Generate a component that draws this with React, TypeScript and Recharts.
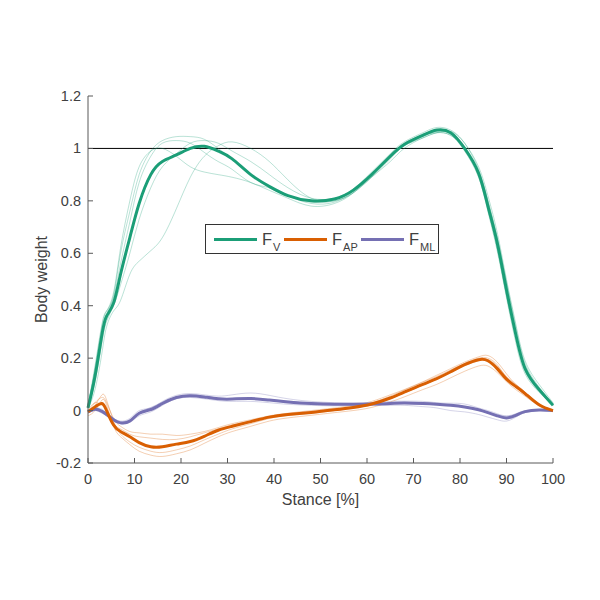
import { LineChart, Line, XAxis, YAxis, ReferenceLine } from "recharts";

// stance grid [%]
const stance = [0, 1.5, 3, 4, 5.5, 7, 9, 11, 13.5, 16, 19, 22, 25, 28, 31, 35, 39, 43, 48, 53, 57, 61, 65, 68, 72, 75, 78, 81, 84, 86, 88, 90, 92, 94, 97, 100];

// mean curves (body weight)
const meanFV = [0.01, 0.13, 0.29, 0.36, 0.41, 0.52, 0.66, 0.79, 0.9, 0.95, 0.975, 1.0, 1.008, 0.99, 0.96, 0.9, 0.855, 0.82, 0.8, 0.807, 0.84, 0.9, 0.97, 1.015, 1.05, 1.07, 1.06, 1.0, 0.905, 0.78, 0.64, 0.46, 0.29, 0.16, 0.08, 0.02];
const meanAP = [-0.005, 0.014, 0.027, 0.0, -0.055, -0.08, -0.1, -0.122, -0.138, -0.138, -0.128, -0.118, -0.098, -0.075, -0.06, -0.042, -0.025, -0.015, -0.007, 0.003, 0.012, 0.025, 0.048, 0.07, 0.1, 0.122, 0.148, 0.175, 0.194, 0.19, 0.16, 0.12, 0.092, 0.065, 0.022, 0.0];
const meanML = [-0.005, 0.005, -0.003, -0.015, -0.035, -0.047, -0.04, -0.01, 0.004, 0.027, 0.05, 0.057, 0.052, 0.045, 0.044, 0.046, 0.04, 0.033, 0.027, 0.024, 0.024, 0.025, 0.027, 0.029, 0.027, 0.024, 0.02, 0.014, 0.003, -0.008, -0.02, -0.028, -0.018, -0.004, 0.002, 0.0];

// individual trials
const fvTrial1 = [0.01, 0.08, 0.22, 0.32, 0.38, 0.42, 0.52, 0.57, 0.61, 0.66, 0.77, 0.89, 0.97, 1.01, 1.025, 1.0, 0.95, 0.88, 0.81, 0.8, 0.83, 0.89, 0.96, 1.01, 1.04, 1.06, 1.05, 1.0, 0.91, 0.8, 0.66, 0.49, 0.32, 0.18, 0.09, 0.02];
const fvTrial2 = [0.02, 0.17, 0.33, 0.38, 0.44, 0.6, 0.76, 0.9, 0.99, 1.03, 1.045, 1.045, 1.035, 1.0, 0.96, 0.9, 0.85, 0.82, 0.795, 0.8, 0.83, 0.89, 0.95, 1.0, 1.04, 1.06, 1.065, 1.02, 0.93, 0.82, 0.68, 0.5, 0.33, 0.19, 0.1, 0.03];
const fvTrial3 = [0.02, 0.15, 0.3, 0.37, 0.43, 0.56, 0.72, 0.87, 0.97, 1.02, 1.03, 1.02, 0.985, 0.95, 0.92, 0.87, 0.85, 0.82, 0.79, 0.795, 0.835, 0.9, 0.965, 1.01, 1.045, 1.065, 1.055, 1.0, 0.9, 0.77, 0.62, 0.44, 0.28, 0.15, 0.075, 0.02];
const fvTrial4 = [0.01, 0.11, 0.26, 0.34, 0.4, 0.48, 0.6, 0.73, 0.85, 0.93, 0.98, 1.02, 1.03, 1.02, 0.99, 0.95, 0.9, 0.85, 0.81, 0.81, 0.845, 0.91, 0.98, 1.025, 1.06, 1.08, 1.07, 1.02, 0.92, 0.8, 0.66, 0.48, 0.3, 0.17, 0.085, 0.02];
const fvTrial5 = [0.02, 0.16, 0.32, 0.38, 0.45, 0.62, 0.8, 0.93, 0.99, 1.0, 0.97, 0.93, 0.91, 0.9, 0.89, 0.87, 0.84, 0.81, 0.78, 0.79, 0.83, 0.9, 0.97, 1.02, 1.05, 1.06, 1.05, 0.99, 0.89, 0.76, 0.61, 0.43, 0.26, 0.14, 0.07, 0.02];

const apTrial1 = [-0.01, 0.03, 0.05, 0.03, -0.03, -0.06, -0.08, -0.085, -0.09, -0.09, -0.095, -0.09, -0.08, -0.065, -0.05, -0.035, -0.02, -0.01, 0.0, 0.01, 0.02, 0.035, 0.06, 0.08, 0.11, 0.135, 0.16, 0.185, 0.205, 0.21, 0.185, 0.14, 0.1, 0.07, 0.025, 0.0];
const apTrial2 = [-0.02, 0.0, 0.04, 0.02, -0.06, -0.1, -0.13, -0.155, -0.17, -0.175, -0.165, -0.15, -0.125, -0.1, -0.08, -0.06, -0.04, -0.028, -0.018, -0.008, 0.0, 0.012, 0.033, 0.052, 0.08, 0.1, 0.125, 0.15, 0.17, 0.17, 0.145, 0.11, 0.08, 0.055, 0.018, -0.005];
const apTrial3 = [-0.005, 0.02, 0.06, 0.04, -0.04, -0.09, -0.12, -0.14, -0.155, -0.16, -0.15, -0.135, -0.112, -0.09, -0.07, -0.05, -0.03, -0.018, -0.01, 0.0, 0.01, 0.022, 0.045, 0.067, 0.097, 0.12, 0.145, 0.172, 0.19, 0.195, 0.17, 0.13, 0.1, 0.07, 0.025, 0.002];
const apTrial4 = [0.0, 0.03, 0.02, 0.0, -0.05, -0.07, -0.09, -0.1, -0.105, -0.11, -0.11, -0.1, -0.085, -0.07, -0.055, -0.04, -0.022, -0.012, -0.004, 0.006, 0.016, 0.03, 0.055, 0.078, 0.108, 0.13, 0.155, 0.18, 0.2, 0.2, 0.175, 0.125, 0.09, 0.06, 0.02, 0.0];

const mlTrial1 = [0.0, 0.01, 0.005, -0.01, -0.03, -0.04, -0.03, 0.0, 0.01, 0.035, 0.058, 0.065, 0.06, 0.055, 0.06, 0.067, 0.058, 0.045, 0.035, 0.03, 0.028, 0.03, 0.035, 0.036, 0.035, 0.03, 0.028, 0.025, 0.01, 0.0, -0.012, -0.02, -0.012, 0.0, 0.003, 0.0];
const mlTrial2 = [-0.01, 0.0, -0.01, -0.02, -0.04, -0.05, -0.045, -0.02, -0.005, 0.02, 0.045, 0.05, 0.045, 0.038, 0.035, 0.035, 0.03, 0.024, 0.02, 0.018, 0.02, 0.02, 0.02, 0.02, 0.015, 0.01, 0.0, -0.005, -0.015, -0.025, -0.035, -0.04, -0.025, -0.008, 0.0, 0.0];
const mlTrial3 = [0.0, 0.012, 0.0, -0.012, -0.03, -0.042, -0.035, -0.008, 0.012, 0.032, 0.052, 0.06, 0.055, 0.048, 0.046, 0.048, 0.042, 0.036, 0.03, 0.027, 0.026, 0.026, 0.03, 0.032, 0.03, 0.026, 0.022, 0.015, 0.005, -0.005, -0.015, -0.022, -0.014, -0.002, 0.002, 0.0];

const fvTrials = [fvTrial1, fvTrial2, fvTrial3, fvTrial4, fvTrial5];
const apTrials = [apTrial1, apTrial2, apTrial3, apTrial4];
const mlTrials = [mlTrial1, mlTrial2, mlTrial3];

const xTicks = [0, 10, 20, 30, 40, 50, 60, 70, 80, 90, 100];
const yTicks = [-0.2, 0, 0.2, 0.4, 0.6, 0.8, 1, 1.2];

const GREEN = "#1b9e77";
const ORANGE = "#d95f02";
const PURPLE = "#7570b3";
const AXIS = "#595959";
const TEXT = "#404040";
const FONT = '"Liberation Sans", Arial, sans-serif';

// plot box in pixels
const PLOT_LEFT = 88;
const PLOT_RIGHT = 553;
const PLOT_TOP = 96;
const PLOT_BOTTOM = 463;

const rows = stance.map((s, i) => {
  const r: Record<string, number> = { s, fv: meanFV[i], ap: meanAP[i], ml: meanML[i] };
  fvTrials.forEach((t, k) => (r[`fv${k}`] = t[i]));
  apTrials.forEach((t, k) => (r[`ap${k}`] = t[i]));
  mlTrials.forEach((t, k) => (r[`ml${k}`] = t[i]));
  return r;
});

function XTick(props: any) {
  const { x, payload } = props;
  return (
    <g>
      <line x1={x} x2={x} y1={PLOT_BOTTOM} y2={PLOT_BOTTOM - 5} stroke={AXIS} />
      <text x={x} y={PLOT_BOTTOM + 21} textAnchor="middle" fontSize={14.5} fill={TEXT} fontFamily={FONT}>
        {payload.value}
      </text>
    </g>
  );
}

function YTick(props: any) {
  const { y, payload } = props;
  return (
    <g>
      <line x1={PLOT_LEFT} x2={PLOT_LEFT + 5} y1={y} y2={y} stroke={AXIS} />
      <text x={PLOT_LEFT - 7} y={y + 5} textAnchor="end" fontSize={14.5} fill={TEXT} fontFamily={FONT}>
        {payload.value}
      </text>
    </g>
  );
}

function LegendItem({ color, sub, left }: { color: string; sub: string; left: number }) {
  return (
    <div style={{ position: "absolute", left, top: 0, height: 30 }}>
      <div style={{ position: "absolute", left: 0, top: 13, width: 43, height: 3, background: color }} />
      <div style={{ position: "absolute", left: 48, top: 4, fontSize: 16.5, color: TEXT, whiteSpace: "nowrap", lineHeight: "20px" }}>
        F
        <span style={{ position: "relative", top: 6, fontSize: 11, marginLeft: 1 }}>{sub}</span>
      </div>
    </div>
  );
}

export default function App() {
  return (
    <div style={{ position: "absolute", left: 0, top: 0, width: 600, height: 600, background: "#fff", fontFamily: FONT }}>
      <LineChart
        width={600}
        height={600}
        data={rows}
        margin={{ top: PLOT_TOP, right: 600 - PLOT_RIGHT, bottom: 600 - PLOT_BOTTOM - 30, left: PLOT_LEFT - 40 }}
      >
        <XAxis
          dataKey="s"
          type="number"
          domain={[0, 100]}
          ticks={xTicks}
          height={30}
          stroke={AXIS}
          tickLine={false}
          tick={<XTick />}
          interval={0}
        />
        <YAxis
          type="number"
          domain={[-0.2, 1.2]}
          ticks={yTicks}
          width={40}
          stroke={AXIS}
          tickLine={false}
          tick={<YTick />}
          interval={0}
          allowDataOverflow
        />
        <ReferenceLine y={1} stroke="#000" strokeWidth={1} />
        {fvTrials.map((_, k) => (
          <Line key={`fv${k}`} dataKey={`fv${k}`} type="natural" stroke={GREEN} strokeOpacity={0.3} strokeWidth={1} dot={false} isAnimationActive={false} />
        ))}
        {apTrials.map((_, k) => (
          <Line key={`ap${k}`} dataKey={`ap${k}`} type="natural" stroke={ORANGE} strokeOpacity={0.3} strokeWidth={1} dot={false} isAnimationActive={false} />
        ))}
        {mlTrials.map((_, k) => (
          <Line key={`ml${k}`} dataKey={`ml${k}`} type="natural" stroke={PURPLE} strokeOpacity={0.3} strokeWidth={1} dot={false} isAnimationActive={false} />
        ))}
        <Line dataKey="ml" type="natural" stroke={PURPLE} strokeWidth={3} dot={false} isAnimationActive={false} />
        <Line dataKey="ap" type="natural" stroke={ORANGE} strokeWidth={3} dot={false} isAnimationActive={false} />
        <Line dataKey="fv" type="natural" stroke={GREEN} strokeWidth={3} dot={false} isAnimationActive={false} />
        <text x={(PLOT_LEFT + PLOT_RIGHT) / 2} y={505} textAnchor="middle" fontSize={16} fill={TEXT} fontFamily={FONT}>
          Stance [%]
        </text>
        <text
          x={47}
          y={(PLOT_TOP + PLOT_BOTTOM) / 2}
          textAnchor="middle"
          fontSize={16}
          fill={TEXT}
          fontFamily={FONT}
          transform={`rotate(-90 47 ${(PLOT_TOP + PLOT_BOTTOM) / 2})`}
        >
          Body weight
        </text>
      </LineChart>
      <div
        style={{
          position: "absolute",
          left: 205,
          top: 224,
          width: 234,
          height: 30,
          border: "1px solid #333",
          background: "#fff",
          boxSizing: "border-box",
        }}
      >
        <LegendItem color={GREEN} sub="V" left={8} />
        <LegendItem color={ORANGE} sub="AP" left={78} />
        <LegendItem color={PURPLE} sub="ML" left={155} />
      </div>
    </div>
  );
}
